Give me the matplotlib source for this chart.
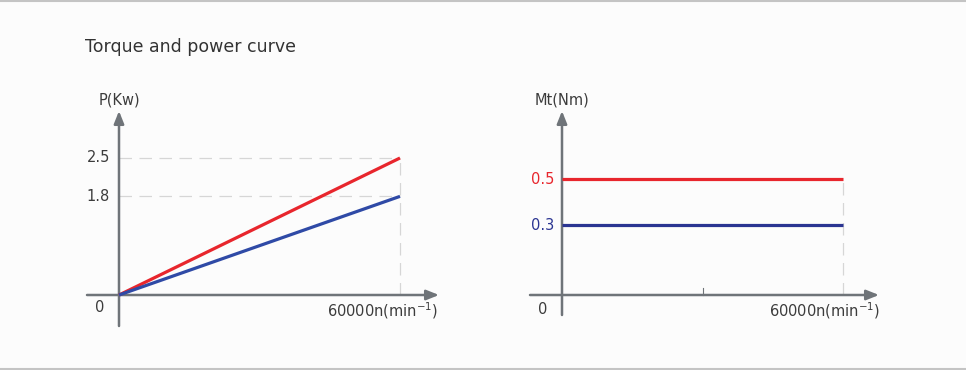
import matplotlib
matplotlib.use("Agg")
import matplotlib.pyplot as plt

# ---- data ----
speed = [0, 60000]                 # n (min^-1)
power_red = [0, 2.5]               # P (kW)
power_blue = [0, 1.8]
torque_red = [0.5, 0.5]            # Mt (Nm)
torque_blue = [0.3, 0.3]
p_ticks = [2.5, 1.8]
p_tick_labels = ["2.5", "1.8"]
t_ticks = [0.5, 0.3]
t_tick_labels = ["0.5", "0.3"]
title = "Torque and power curve"
x_label = "60000n(min$^{-1}$)"

RED = "#e8262d"
BLUE_L = "#2f4aa6"
BLUE_R = "#2b3592"
AXC = "#6f7479"
TXT = "#3c3c3c"
GRID = "#d6d6d6"

W, H = 966, 370
fig = plt.figure(figsize=(W / 100, H / 100), dpi=100)
fig.patch.set_facecolor("#fcfcfc")

def make_axes(box, origin, xend, yval_px, xmax_val, yval):
    l, t, r, b = box
    ax = fig.add_axes([l / W, 1 - b / H, (r - l) / W, (b - t) / H])
    sx = xmax_val / (xend - origin[0])
    sy = yval / (origin[1] - yval_px)
    ax.set_xlim((l - origin[0]) * sx, (r - origin[0]) * sx)
    ax.set_ylim((origin[1] - b) * sy, (origin[1] - t) * sy)
    ax.axis("off")
    ax.patch.set_alpha(0)
    return ax, sx, sy

def draw_axes(ax, origin, sx, sy, x0px, x1px, y0px, y1px):
    xa = (x0px - origin[0]) * sx
    xb = (x1px - origin[0]) * sx
    ya = (origin[1] - y0px) * sy
    yb = (origin[1] - y1px) * sy
    style = "-|>,head_length=0.75,head_width=0.3"
    ax.annotate("", xy=(xb, 0), xytext=(xa, 0),
                arrowprops=dict(arrowstyle=style, color=AXC, lw=1.8,
                                shrinkA=0, shrinkB=0), zorder=3)
    ax.annotate("", xy=(0, yb), xytext=(0, ya),
                arrowprops=dict(arrowstyle=style, color=AXC, lw=1.8,
                                shrinkA=0, shrinkB=0), zorder=3)

# ---- left: power ----
axL, sxL, syL = make_axes((80, 100, 445, 335), (119, 295), 400, 158, 60000, 2.5)
draw_axes(axL, (119, 295), sxL, syL, 87, 439, 326, 111)
for v in p_ticks:
    axL.plot([0, speed[-1]], [v, v], color=GRID, lw=0.9, ls=(0, (10, 6)), zorder=1)
axL.plot([speed[-1], speed[-1]], [0, max(p_ticks)], color=GRID, lw=0.9, ls=(0, (10, 6)), zorder=1)
axL.plot(speed, power_red, color=RED, lw=2.3, zorder=4, solid_capstyle="butt")
axL.plot(speed, power_blue, color=BLUE_L, lw=2.3, zorder=4, solid_capstyle="butt")

# ---- right: torque ----
axR, sxR, syR = make_axes((520, 100, 890, 335), (562, 295), 843, 179, 60000, 0.5)
draw_axes(axR, (562, 295), sxR, syR, 530, 879, 315, 111)
axR.plot([speed[-1], speed[-1]], [0, max(t_ticks)], color=GRID, lw=0.9, ls=(0, (10, 6)), zorder=1)
axR.plot([speed[-1] / 2, speed[-1] / 2], [0, 7 * syR], color=AXC, lw=0.8, zorder=3)
axR.plot(speed, torque_red, color=RED, lw=2.3, zorder=4, solid_capstyle="butt")
axR.plot(speed, torque_blue, color=BLUE_R, lw=2.3, zorder=4, solid_capstyle="butt")

# ---- texts (figure pixel coordinates) ----
def ftext(x, y, s, **kw):
    fig.text(x / W, 1 - y / H, s, **kw)

ftext(85, 47, title, fontsize=12.5, color="#333333", va="center", ha="left")
fs = 10.5
ftext(119, 100, "P(Kw)", fontsize=fs, color=TXT, ha="center", va="center")
for v, lab in zip(p_ticks, p_tick_labels):
    axL.text(-9 * sxL, v, lab, fontsize=fs, color=TXT, ha="right", va="center")
ftext(100, 307, "0", fontsize=fs, color=TXT, ha="center", va="center")
ftext(438, 311, x_label, fontsize=fs, color=TXT, ha="right", va="center")

ftext(562, 100, "Mt(Nm)", fontsize=fs, color=TXT, ha="center", va="center")
axR.text(-8 * sxR, t_ticks[0], t_tick_labels[0], fontsize=fs, color=RED, ha="right", va="center")
axR.text(-8 * sxR, t_ticks[1], t_tick_labels[1], fontsize=fs, color=BLUE_R, ha="right", va="center")
ftext(543, 309, "0", fontsize=fs, color=TXT, ha="center", va="center")
ftext(880, 311, x_label, fontsize=fs, color=TXT, ha="right", va="center")

# border lines
fig.add_artist(plt.Line2D([0, 1], [1 - 0.5 / H, 1 - 0.5 / H], color="#c4c4c4", lw=1.5))
fig.add_artist(plt.Line2D([0, 1], [1.5 / H, 1.5 / H], color="#c4c4c4", lw=1.5))

fig.savefig("out.png", dpi=100, facecolor=fig.get_facecolor())
